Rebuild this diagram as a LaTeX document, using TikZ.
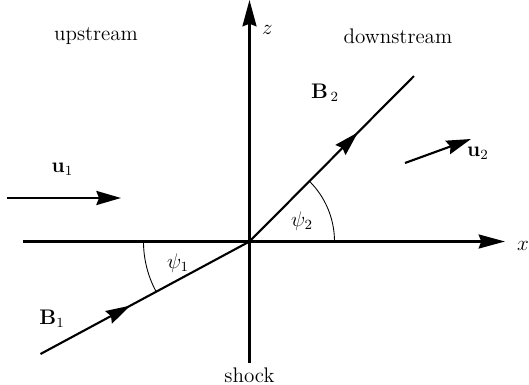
\documentclass[tikz,border=0pt]{standalone}
\usepackage{amsmath}
\usepackage{tikz}
\usetikzlibrary{arrows.meta, decorations.markings}

\begin{document}
\begin{tikzpicture}[
    lbl/.style={inner sep=1pt, font=\fontsize{12}{14}\selectfont},
    axis/.style={line width=1.2pt, -{Stealth[length=15pt, width=8pt, inset=1.5pt]}},
    vec/.style={line width=1.2pt, -{Stealth[length=14pt, width=8pt, inset=1.5pt]}},
    field/.style={line width=1.2pt, decoration={markings,
        mark=at position #1 with {\arrow{Stealth[length=14pt, width=8pt, inset=1.5pt]}}},
        postaction={decorate}},
    angarc/.style={line width=0.5pt}
]
\useasboundingbox (-4.99,-2.87) rectangle (5.59,4.83);

\coordinate (O) at (0,0);
\coordinate (xl) at (-4.53,0);
\coordinate (xr) at (5.11,0);
\coordinate (zb) at (0,-2.43);
\coordinate (zt) at (0,4.83);
\coordinate (b1) at (-4.18,-2.25);
\coordinate (b2) at (3.29,3.31);
\coordinate (u1s) at (-4.84,0.87);
\coordinate (u1e) at (-2.57,0.87);
\coordinate (u2s) at (3.11,1.57);
\coordinate (u2e) at (4.43,2.05);

% axes
\draw[axis] (xl) -- (xr);
\draw[axis] (zb) -- (zt);

% field lines
\draw[field=0.43] (b1) -- (O);
\draw[field=0.66] (O) -- (b2);

% flow vectors
\draw[vec] (u1s) -- (u1e);
\draw[vec] (u2s) -- (u2e);

% angles
\draw[angarc] (1.7,0) arc[start angle=0, end angle=45.2, radius=1.7];
\draw[angarc] (-2.12,0) arc[start angle=180, end angle=208.3, radius=2.12];

\node[lbl] (up) at (-3.07,4.1) {upstream};
\node[lbl] (down) at (2.97,4.1) {downstream};
\node[lbl] (zlab) at (0.36,4.23) {$z$};
\node[lbl] (xlab) at (5.47,-0.09) {$x$};
\node[lbl] (shock) at (0,-2.67) {shock};
\node[lbl] (B1) at (-3.95,-1.55) {$\mathbf{B}_1$};
\node[lbl] (B2) at (1.51,2.97) {$\mathbf{B}_{\,2}$};
\node[lbl] (u1) at (-3.74,1.45) {$\mathbf{u}_1$};
\node[lbl] (u2) at (4.57,1.76) {$\mathbf{u}_2$};
\node[lbl] (psi1) at (-1.43,-0.43) {$\psi_1$};
\node[lbl] (psi2) at (1.05,0.41) {$\psi_2$};
\end{tikzpicture}
\end{document}
